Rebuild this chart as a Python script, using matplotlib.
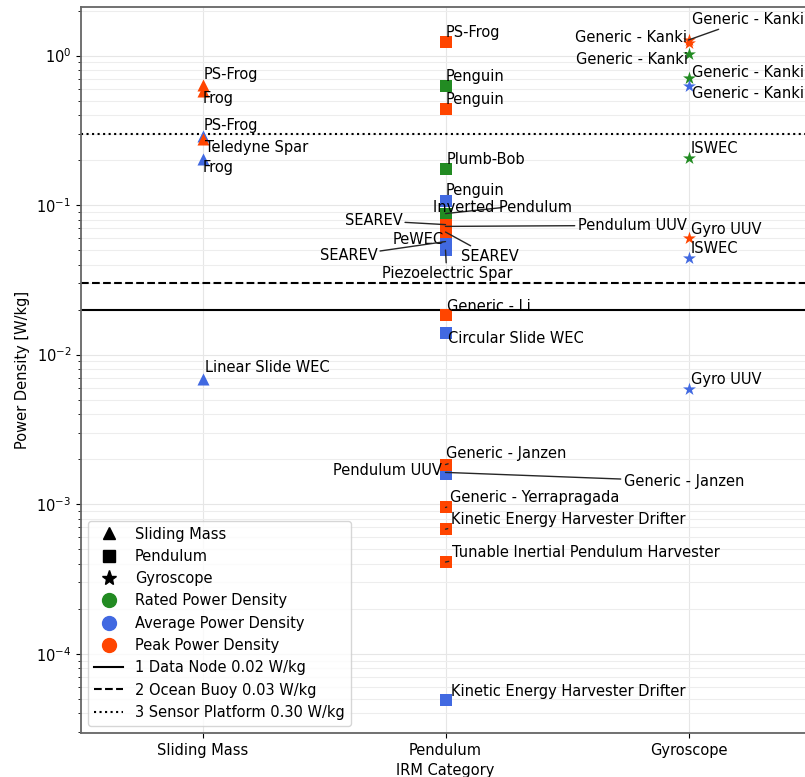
import matplotlib
matplotlib.use('Agg')
import matplotlib.pyplot as plt
from matplotlib.lines import Line2D

plt.rcParams['font.size'] = 10.5

# categories on the x axis
categories = ['Sliding Mass', 'Pendulum', 'Gyroscope']

# one entry per plotted point
devices = [
    'PS-Frog', 'Frog', 'PS-Frog', 'Teledyne Spar', 'Frog', 'Linear Slide WEC',
    'PS-Frog', 'Penguin', 'Penguin', 'Plumb-Bob', 'Penguin', 'Inverted Pendulum',
    'SEAREV', 'Pendulum UUV', 'SEAREV', 'PeWEC', 'SEAREV', 'Piezoelectric Spar',
    'Generic - Li', 'Circular Slide WEC', 'Generic - Janzen', 'Pendulum UUV',
    'Generic - Janzen', 'Generic - Yerrapragada', 'Kinetic Energy Harvester Drifter',
    'Tunable Inertial Pendulum Harvester', 'Kinetic Energy Harvester Drifter',
    'Generic - Kanki', 'Generic - Kanki', 'Generic - Kanki', 'Generic - Kanki',
    'Generic - Kanki', 'ISWEC', 'Gyro UUV', 'ISWEC', 'Gyro UUV',
]
device_cat = ['Sliding Mass'] * 6 + ['Pendulum'] * 21 + ['Gyroscope'] * 9
metric = [
    'Peak', 'Peak', 'Average', 'Peak', 'Average', 'Average',
    'Peak', 'Rated', 'Peak', 'Rated', 'Average', 'Rated',
    'Peak', 'Peak', 'Peak', 'Average', 'Average', 'Average',
    'Peak', 'Average', 'Peak', 'Average',
    'Average', 'Peak', 'Peak',
    'Peak', 'Average',
    'Peak', 'Peak', 'Rated', 'Rated',
    'Average', 'Rated', 'Peak', 'Average', 'Average',
]
power_density = [
    0.64, 0.575, 0.29, 0.275, 0.203, 0.0069,
    1.24, 0.63, 0.44, 0.173, 0.107, 0.0877,
    0.074, 0.072, 0.066, 0.060, 0.057, 0.050,
    0.0185, 0.014, 0.00184, 0.00158,
    0.00163, 0.00095, 0.00068,
    0.00041, 0.000049,
    1.27, 1.22, 1.03, 0.71,
    0.63, 0.205, 0.06, 0.0445, 0.0059,
]

# label offsets from the point, in pixels (dx right, dy up)
label_offset = [
    (1, 10), (0, -7), (1, 10), (2, -8), (0, -8), (2, 11),
    (0, 9), (0, 9), (0, 9), (1, 10), (0, 10), (-13, 6),
    (-101, 4), (132, 1), (15, -24), (-53, -1), (-126, -14), (-64, -23),
    (1, 8), (2, -6), (0, 11), (-113, 4),
    (178, -9), (4, 10), (5, 10), (6, 10), (5, 8),
    (3, 21), (-114, 5), (-113, -6), (3, 5), (3, -8), (2, 10), (2, 9), (2, 9), (2, 9),
]
# connector line: None = no line, otherwise anchor on the label box
label_line = [
    None, None, None, None, None, None,
    None, None, None, None, None, (0.5, 0.5),
    (0.5, 0.5), (0.5, 0.5), (0.5, 0.5), None, (0.5, 0.5), (0.5, 0.5),
    None, None, (0.15, 0.1), None,
    (0.5, 0.5), (0.05, 0.1), (0.05, 0.1), (0.05, 0.1), None,
    (0.5, 0.5), None, None, None, None, None, None, None, None,
]

# reference requirement lines
req_labels = ['1 Data Node 0.02 W/kg', '2 Ocean Buoy 0.03 W/kg', '3 Sensor Platform 0.30 W/kg']
req_values = [0.02, 0.03, 0.30]
req_styles = ['-', '--', ':']

markers = {'Sliding Mass': '^', 'Pendulum': 's', 'Gyroscope': '*'}
colors = {'Rated': 'forestgreen', 'Average': 'royalblue', 'Peak': 'orangered'}

fig = plt.figure(figsize=(8.05, 7.77), dpi=100)
ax = fig.add_axes([81 / 805, 44 / 777, 729 / 805, 726 / 777])

for c in categories:
    for m in ['Rated', 'Average', 'Peak']:
        idx = [i for i in range(len(devices)) if device_cat[i] == c and metric[i] == m]
        if idx:
            ax.scatter([categories.index(c)] * len(idx), [power_density[i] for i in idx],
                       marker=markers[c], color=colors[m],
                       s=75 if c != 'Gyroscope' else 95, zorder=3, linewidths=0)

for v, ls in zip(req_values, req_styles):
    ax.axhline(v, color='k', linestyle=ls, linewidth=1.5, zorder=2)

for i, name in enumerate(devices):
    x = categories.index(device_cat[i])
    arrow = None
    if label_line[i] is not None:
        arrow = dict(arrowstyle='-', color='0.15', lw=1, shrinkA=0, shrinkB=0,
                     relpos=label_line[i])
    ax.annotate(name, (x, power_density[i]), xytext=label_offset[i],
                textcoords='offset pixels', ha='left', va='center',
                arrowprops=arrow, zorder=4)

ax.set_yscale('log')
ax.set_xlim(-0.5, 2.5)
ax.set_xticks(range(len(categories)))
ax.set_xticklabels(categories)
ax.set_xlabel('IRM Category')
ax.set_ylabel('Power Density [W/kg]')
ax.grid(True, which='major', color='0.9', linewidth=0.8)
ax.grid(True, which='minor', axis='y', color='0.93', linewidth=0.8)
ax.set_axisbelow(True)
for sp in ax.spines.values():
    sp.set_color('0.4')
    sp.set_linewidth(1.3)

handles = [
    Line2D([], [], marker='^', color='k', linestyle='', markersize=9, label='Sliding Mass'),
    Line2D([], [], marker='s', color='k', linestyle='', markersize=9, label='Pendulum'),
    Line2D([], [], marker='*', color='k', linestyle='', markersize=11, label='Gyroscope'),
    Line2D([], [], marker='o', color='forestgreen', linestyle='', markersize=10, label='Rated Power Density'),
    Line2D([], [], marker='o', color='royalblue', linestyle='', markersize=10, label='Average Power Density'),
    Line2D([], [], marker='o', color='orangered', linestyle='', markersize=10, label='Peak Power Density'),
]
for lab, ls in zip(req_labels, req_styles):
    handles.append(Line2D([], [], color='k', linestyle=ls, linewidth=1.5, label=lab))
ax.legend(handles=handles, loc='lower left')

fig.savefig('out.png', dpi=100)
